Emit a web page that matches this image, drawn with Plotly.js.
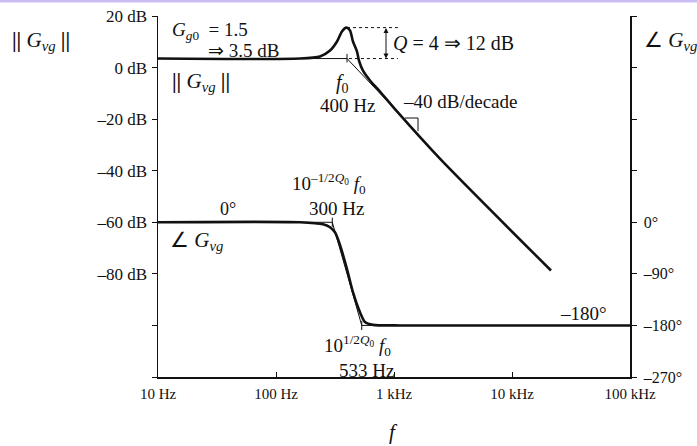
<!DOCTYPE html>
<html>
<head>
<meta charset="utf-8">
<script src="https://cdn.plot.ly/plotly-3.0.1.min.js"></script>
<style>html,body{margin:0;padding:0;background:#fff;}#chart{width:697px;height:446px;}svg text{-webkit-font-smoothing:antialiased;}</style>
</head>
<body>
<div id="chart"></div>
<script>
// ---- data ----
const magF  = [10, 160, 236, 287, 329, 362, 395, 424, 449, 486, 505, 546, 626, 761, 1060, 2450, 21400];
const magDb = [3.5, 3.5, 4.3, 6.6, 10.1, 14.0, 15.5, 14.4, 10.1, 6.2, 2.7, -1.2, -5.0, -9.3, -17.0, -35.3, -78.7];

const phF   = [10, 160, 250, 287, 316, 349, 400, 449, 515, 568, 664, 1124, 100000];
const phDeg = [0, 0, -3.5, -8.7, -17.5, -40, -82, -122, -157, -174, -179, -180, -180];

const asymMagF  = [10, 400, 1060];
const asymMagDb = [3.5, 3.5, -17.0];
const asymPhF   = [10, 300, 533, 100000];
const asymPhDeg = [0, 0, -180, -180];

const f0 = 400, fLow = 300, fHigh = 533;
const Gg0dB = 3.5, peakDb = 15.5;

const xTickVals = [10, 100, 1000, 10000, 100000];
const xTickText = ['10 Hz', '100 Hz', '1 kHz', '10 kHz', '100 kHz'];
const yTickVals = [20, 0, -20, -40, -60, -80, -100, -120];
const yTickText = ['20 dB', '0 dB', '–20 dB', '–40 dB', '–60 dB', '–80 dB', '', ''];
const y2TickVals = [360, 270, 180, 90, 0, -90, -180, -270];
const y2TickText = ['', '', '', '', '0°', '–90°', '–180°', '–270°'];

// minor tick positions
const xMinor = [];
[10, 100, 1000, 10000].forEach(d => { for (let k = 2; k <= 9; k++) xMinor.push(d * k); });
const yMinor = [];
for (let v = -115; v < 20; v += 5) if (v % 20 !== 0) yMinor.push(v);
const y2Minor = [];
for (let v = -255; v < 360; v += 15) if (v % 90 !== 0) y2Minor.push(v);

// ---- layout helpers (pixel -> paper) ----
const L = 158, R = 630, T = 16, B = 377;
const px = x => (x - L) / (R - L);
const py = y => (B - y) / (B - T);
const serif = 'Liberation Serif, Times New Roman, serif';
const ink = '#111';

const traces = [
  {x: asymMagF, y: asymMagDb, mode: 'lines', line: {color: ink, width: 1}, xaxis: 'x', yaxis: 'y', hoverinfo: 'skip'},
  {x: asymPhF, y: asymPhDeg, mode: 'lines', line: {color: ink, width: 1}, xaxis: 'x', yaxis: 'y2', hoverinfo: 'skip'},
  {x: magF, y: magDb, mode: 'lines', line: {color: ink, width: 2.6, shape: 'spline', smoothing: 0.7}, xaxis: 'x', yaxis: 'y'},
  {x: phF, y: phDeg, mode: 'lines', line: {color: ink, width: 2.6, shape: 'spline', smoothing: 0.7}, xaxis: 'x', yaxis: 'y2'}
];

function ann(text, x, y, size, xanchor) {
  return {text: text, xref: 'paper', yref: 'paper', x: px(x), y: py(y), showarrow: false,
          xanchor: xanchor || 'center', yanchor: 'middle', font: {family: serif, size: size || 19, color: ink}};
}
const G = '<i>G</i><sub><i>vg</i></sub>';
const BARS = '<b>||</b>';

const annotations = [
  ann(BARS + ' ' + G + ' ' + BARS, 41, 41, 21),
  ann('∠ ' + G, 670, 41, 21),
  ann('<i>G</i><sub><i>g</i>0</sub>  = 1.5', 170, 31, 19, 'left'),
  ann('⇒ 3.5 dB', 206, 51, 19, 'left'),
  ann(BARS + ' ' + G + ' ' + BARS, 170, 82, 21, 'left'),
  ann('<i>f</i><sub>0</sub>', 342, 84, 20),
  ann('400 Hz', 347, 106, 19),
  ann('–40 dB/decade', 401, 102, 19, 'left'),
  ann('<i>Q</i> = 4 ⇒ 12 dB', 391, 43, 20, 'left'),
  ann('0°', 228, 209, 18),
  ann('10<sup>–1/2<i>Q</i><sub>0</sub></sup> <i>f</i><sub>0</sub>', 290, 183, 19, 'left'),
  ann('300 Hz', 336, 208, 19),
  ann('∠ ' + G, 196, 241, 21),
  ann('–180°', 583, 313, 19),
  ann('10<sup>1/2<i>Q</i><sub>0</sub></sup> <i>f</i><sub>0</sub>', 322, 345, 19, 'left'),
  ann('533 Hz', 366, 370, 19),
  ann('<i>f</i>', 393, 432, 21),
  // double arrow for Q
  {xref: 'paper', yref: 'paper', x: px(386), y: py(28), ax: 0, ay: 32, text: '', showarrow: true,
   arrowhead: 2, startarrowhead: 2, arrowside: 'end+start', arrowsize: 1, arrowwidth: 1, arrowcolor: ink, standoff: 0, startstandoff: 0}
];

const shapes = [
  // lavender strip at top
  {type: 'rect', xref: 'paper', yref: 'paper', x0: px(0), x1: px(697), y0: py(2.5), y1: py(0), line: {width: 0}, fillcolor: '#c9bdf2'},
  // dotted peak markers
  {type: 'line', xref: 'x', yref: 'y', x0: f0, x1: 1080, y0: peakDb, y1: peakDb, line: {color: ink, width: 1, dash: 'dot'}},
  {type: 'line', xref: 'x', yref: 'y', x0: 415, x1: 1080, y0: Gg0dB, y1: Gg0dB, line: {color: ink, width: 1, dash: 'dot'}},
  // corner ticks
  {type: 'line', xref: 'x', yref: 'y', x0: f0, x1: f0, y0: Gg0dB - 1.5, y1: Gg0dB + 1.8, line: {color: ink, width: 1}},
  {type: 'line', xref: 'x', yref: 'y2', x0: fLow, x1: fLow, y0: -8, y1: 8, line: {color: ink, width: 1}},
  {type: 'line', xref: 'x', yref: 'y2', x0: fHigh, x1: fHigh, y0: -188, y1: -172, line: {color: ink, width: 1}},
  // slope marker
  {type: 'path', xref: 'paper', yref: 'paper',
   path: 'M ' + px(405) + ' ' + py(118) + ' L ' + px(418) + ' ' + py(118) + ' L ' + px(418) + ' ' + py(131),
   line: {color: ink, width: 1}}
];

const noAx = {showline: false, showgrid: false, zeroline: false, showticklabels: false};
const layout = {
  width: 697, height: 446,
  margin: {l: L, r: 697 - R, t: T, b: 446 - B, pad: 0},
  paper_bgcolor: '#ffffff', plot_bgcolor: '#ffffff',
  showlegend: false,
  xaxis: {type: 'log', range: [1, 5], tickvals: xTickVals, ticktext: xTickText, ticks: 'inside', ticklen: 5,
          tickwidth: 1, tickcolor: ink, showline: true, linecolor: ink, linewidth: 1.5, showgrid: false, zeroline: false,
          tickfont: {family: serif, size: 15, color: ink}, ticklabelstandoff: 2},
  xaxis2: Object.assign({type: 'log', range: [1, 5], overlaying: 'x', anchor: 'y', side: 'bottom', tickvals: xTickVals,
           ticks: 'outside', ticklen: 4, tickcolor: ink}, noAx),
  xaxis3: Object.assign({type: 'log', range: [1, 5], overlaying: 'x', anchor: 'y', side: 'bottom', tickvals: xMinor,
           ticks: 'inside', ticklen: 2.5, tickcolor: '#333'}, noAx),
  yaxis: {range: [-120, 20], tickvals: yTickVals, ticktext: yTickText, ticks: 'outside', ticklen: 5, tickwidth: 1,
          tickcolor: ink, showline: true, linecolor: ink, linewidth: 1.5, showgrid: false, zeroline: false,
          tickfont: {family: serif, size: 17, color: ink}, ticklabelstandoff: 1},
  yaxis2: {range: [-270, 360], overlaying: 'y', side: 'right', anchor: 'x', tickvals: y2TickVals, ticktext: y2TickText,
           ticks: 'outside', ticklen: 5, tickwidth: 1, tickcolor: ink, showline: true, linecolor: ink, linewidth: 1.5,
           showgrid: false, zeroline: false, tickfont: {family: serif, size: 16, color: ink}, ticklabelstandoff: 4},
  yaxis3: Object.assign({range: [-120, 20], overlaying: 'y', side: 'left', anchor: 'x', tickvals: yTickVals,
           ticks: 'inside', ticklen: 5, tickcolor: ink}, noAx),
  yaxis4: Object.assign({range: [-270, 360], overlaying: 'y', side: 'right', anchor: 'x', tickvals: y2TickVals,
           ticks: 'inside', ticklen: 5, tickcolor: ink}, noAx),
  yaxis5: Object.assign({range: [-120, 20], overlaying: 'y', side: 'left', anchor: 'x', tickvals: yMinor,
           ticks: 'inside', ticklen: 3, tickcolor: '#333'}, noAx),
  yaxis6: Object.assign({range: [-270, 360], overlaying: 'y', side: 'right', anchor: 'x', tickvals: y2Minor,
           ticks: 'inside', ticklen: 3, tickcolor: '#333'}, noAx),
  annotations: annotations,
  shapes: shapes
};

Plotly.newPlot('chart', traces, layout, {displayModeBar: false, staticPlot: true});
</script>
</body>
</html>
